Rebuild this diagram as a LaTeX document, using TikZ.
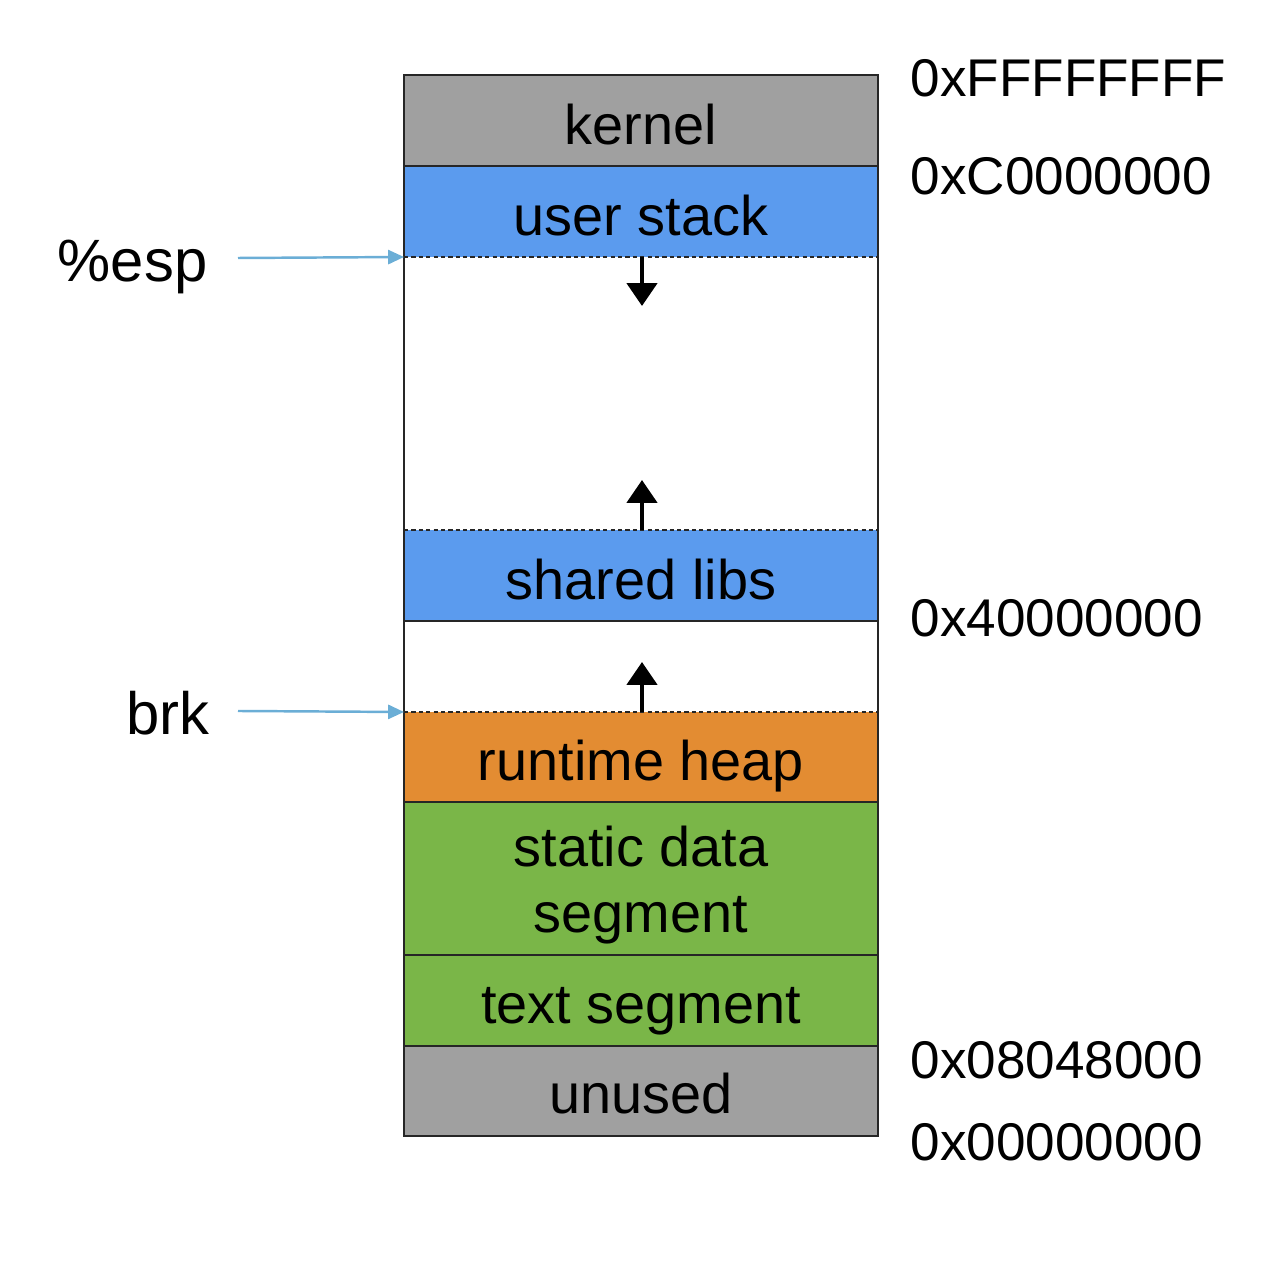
\documentclass[tikz,border=0pt]{standalone}
\usepackage{fontspec}
\setmainfont{Liberation Sans}
\usetikzlibrary{arrows.meta}
\definecolor{kgray}{HTML}{A0A0A0}
\definecolor{kblue}{HTML}{5B9BEE}
\definecolor{korange}{HTML}{E38C32}
\definecolor{kgreen}{HTML}{7AB648}
\definecolor{kline}{HTML}{6BAED6}
\begin{document}
\begin{tikzpicture}[
  seg/.style={rectangle, draw=none, minimum width=4.74cm, inner sep=0pt, outer sep=0pt},
  segtext/.style={anchor=base, inner sep=0pt, font=\fontsize{15.9pt}{19pt}\selectfont},
  addr/.style={anchor=west, inner sep=0pt, font=\fontsize{15.1pt}{18pt}\selectfont},
  ptr/.style={anchor=east, inner sep=0pt, font=\fontsize{17pt}{20pt}\selectfont},
  bound/.style={line width=0.6pt, draw=black!85},
  dotb/.style={line width=0.6pt, draw=black!85, dash pattern=on 1.2pt off 0.9pt},
  growarrow/.style={line width=1.3pt, -{Triangle[width=8.5pt,length=6.5pt]}},
  ptrarrow/.style={line width=0.7pt, draw=kline, -{Triangle[width=4pt,length=4.5pt]}}
]
\useasboundingbox (0,0) rectangle (12.86,-12.82);
% segments (fills)
\node[seg, fill=kgray,   minimum height=0.91cm] (kernel) at (6.41,-1.205) {};
\node[seg, fill=kblue,   minimum height=0.91cm] (ustack) at (6.41,-2.115) {};
\node[seg, fill=white,   minimum height=2.73cm] (gap1)   at (6.41,-3.935) {};
\node[seg, fill=kblue,   minimum height=0.91cm] (shlib)  at (6.41,-5.755) {};
\node[seg, fill=white,   minimum height=0.91cm] (gap2)   at (6.41,-6.665) {};
\node[seg, fill=korange, minimum height=0.90cm] (heap)   at (6.41,-7.57) {};
\node[seg, fill=kgreen,  minimum height=1.53cm] (static) at (6.41,-8.785) {};
\node[seg, fill=kgreen,  minimum height=0.91cm] (textseg) at (6.41,-10.005) {};
\node[seg, fill=kgray,   minimum height=0.90cm] (unused) at (6.41,-10.91) {};
% boundaries
\draw[bound] (kernel.south west) -- (kernel.south east);
\draw[dotb]  (ustack.south west) -- (ustack.south east);
\draw[dotb]  (shlib.north west) -- (shlib.north east);
\draw[bound] (shlib.south west) -- (shlib.south east);
\draw[dotb]  (heap.north west) -- (heap.north east);
\draw[bound] (heap.south west) -- (heap.south east);
\draw[bound] (static.south west) -- (static.south east);
\draw[bound] (textseg.south west) -- (textseg.south east);
\draw[bound] (kernel.north west) rectangle (unused.south east);
% segment texts
\node[segtext] (tkernel) at (6.41,-1.45) {kernel};
\node[segtext] (tustack) at (6.41,-2.36) {user stack};
\node[segtext] (tshlib) at (6.41,-5.995) {shared libs};
\node[segtext] (theap) at (6.41,-7.81) {runtime heap};
\node[segtext] (tstatic1) at (6.41,-8.67) {static data};
\node[segtext] (tstatic2) at (6.41,-9.33) {segment};
\node[segtext] (ttext) at (6.41,-10.235) {text segment};
\node[segtext] (tunused) at (6.41,-11.135) {unused};
% growth arrows
\coordinate (stackend) at (6.42,-3.06);
\coordinate (libend) at (6.42,-4.80);
\coordinate (heapend) at (6.42,-6.62);
\coordinate (stackstart) at (6.42,-2.57);
\coordinate (libstart) at (6.42,-5.30);
\coordinate (heapstart) at (6.42,-7.12);
\draw[growarrow] (stackstart) -- (stackend);
\draw[growarrow] (libstart) -- (libend);
\draw[growarrow] (heapstart) -- (heapend);
% addresses
\node[addr] (aF) at (9.10,-0.78) {0xFFFFFFFF};
\node[addr] (aC) at (9.10,-1.76) {0xC0000000};
\node[addr] (a4) at (9.10,-6.18) {0x40000000};
\node[addr] (a08) at (9.10,-10.60) {0x08048000};
\node[addr] (a0) at (9.10,-11.42) {0x00000000};
% pointers
\node[ptr] (esp) at (2.08,-2.67) {\%esp};
\node[ptr] (brk) at (2.10,-7.13) {brk};
\coordinate (espstart) at (2.38,-2.58);
\coordinate (brkstart) at (2.38,-7.11);
\draw[ptrarrow] (espstart) -- (ustack.south west);
\draw[ptrarrow] (brkstart) -- (heap.north west);
\end{tikzpicture}
\end{document}
